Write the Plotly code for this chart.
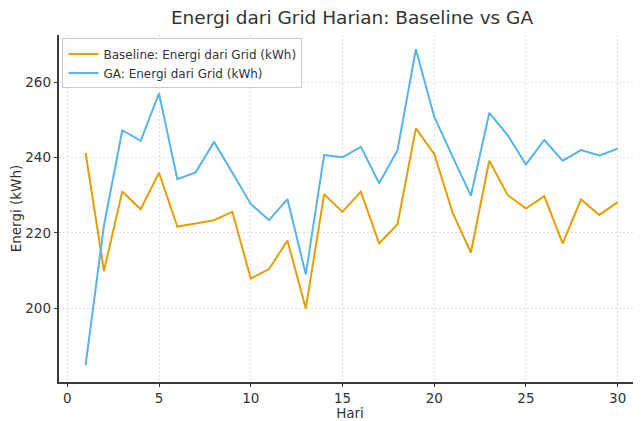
import plotly.graph_objects as go

days = list(range(1, 31))
baseline = [241.3, 209.9, 231.0, 226.3, 236.0, 221.7, 222.5, 223.4, 225.6, 207.9,
            210.4, 218.0, 199.9, 230.3, 225.6, 231.0, 217.2, 222.3, 247.8, 241.0,
            225.4, 214.8, 239.2, 230.1, 226.5, 229.8, 217.2, 228.9, 224.8, 228.2]
ga = [184.9, 222.0, 247.3, 244.5, 257.1, 234.3, 236.1, 244.2, 236.0, 227.7,
      223.4, 229.0, 209.0, 240.7, 240.1, 242.9, 233.2, 242.0, 268.8, 250.9,
      240.3, 229.9, 251.9, 246.0, 238.2, 244.7, 239.2, 242.0, 240.6, 242.4]
xticks = [0, 5, 10, 15, 20, 25, 30]
yticks = [200, 220, 240, 260]

font = "DejaVu Sans"
fig = go.Figure()
fig.add_trace(go.Scatter(x=days, y=baseline, mode="lines", name="Baseline: Energi dari Grid (kWh)",
                         line=dict(color="#E69F00", width=2)))
fig.add_trace(go.Scatter(x=days, y=ga, mode="lines", name="GA: Energi dari Grid (kWh)",
                         line=dict(color="#56B4E9", width=2)))

axis_common = dict(showline=True, linecolor="#3a3a3a", linewidth=1.5, ticks="outside", ticklen=3.5,
                   tickcolor="#3a3a3a", tickfont=dict(family=font, size=13.5, color="#333"),
                   showgrid=True, gridcolor="#dddddd", griddash="2px,2px", gridwidth=1,
                   zeroline=False, mirror=False, automargin=False)
# the page body has an 8px margin, so the figure is sized/offset to compensate
W, H = 633, 413
fig.update_layout(
    width=W, height=H,
    margin=dict(l=51, r=0, t=27, b=39),
    paper_bgcolor="white", plot_bgcolor="white",
    title=dict(text="Energi dari Grid Harian: Baseline vs GA", x=344 / W, xref="container",
               xanchor="center", y=1 - 10 / H, yref="container", yanchor="middle",
               font=dict(family=font, size=18.5, color="#333")),
    xaxis=dict(range=[-0.45, 31.27], tickvals=xticks,
               title=dict(text="Hari", font=dict(family=font, size=13.5, color="#333"), standoff=4),
               **axis_common),
    yaxis=dict(range=[180.4, 272.6], tickvals=yticks,
               title=dict(text="Energi (kWh)", font=dict(family=font, size=13.5, color="#333"), standoff=3),
               **axis_common),
    legend=dict(x=0.006, y=0.99, xanchor="left", yanchor="top", bgcolor="rgba(255,255,255,0.85)",
                bordercolor="#cccccc", borderwidth=1, font=dict(family=font, size=12, color="#333"),
                tracegroupgap=0, itemwidth=30),
    showlegend=True,
)
fig.write_html("out.html")
